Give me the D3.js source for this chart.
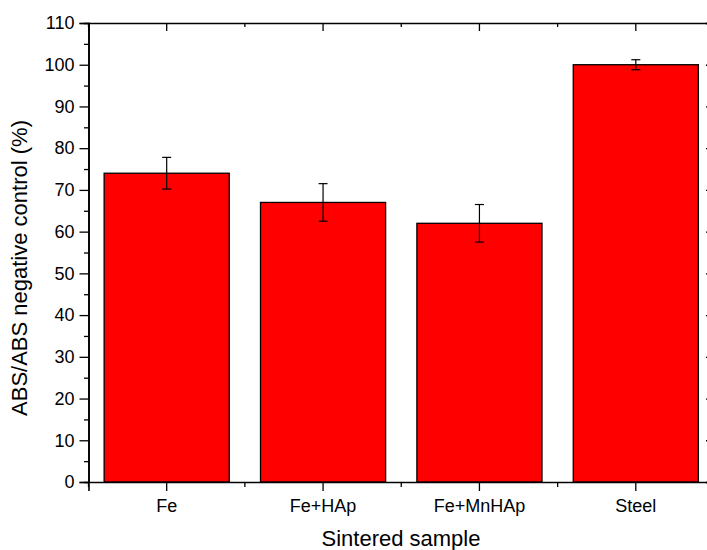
<!DOCTYPE html>
<html>
<head>
<meta charset="utf-8">
<script src="https://d3js.org/d3.v7.min.js"></script>
<style>
  body { margin: 0; background: #fff; }
  text { font-family: "Liberation Sans", Arial, sans-serif; fill: #000; }
</style>
</head>
<body>
<div id="chart"></div>
<script>
// data
var samples = ["Fe", "Fe+HAp", "Fe+MnHAp", "Steel"];
var absValues = [74, 67, 62, 100];
var absErrors = [3.8, 4.5, 4.5, 1.2];
var yTicks = d3.range(0, 111, 10);
var yMinorTicks = d3.range(5, 110, 10);

var svgWidth = 707;
var svgHeight = 550;

// plot frame (right edge runs just past the window)
var margin = {top: 23, right: -7, bottom: 68, left: 88.5};
var width = svgWidth - margin.left - margin.right;
var height = svgHeight - margin.top - margin.bottom;

var svg = d3.select("#chart")
  .append("svg")
    .attr("width", svgWidth)
    .attr("height", svgHeight);

var chartGroup = svg.append("g")
  .attr("transform", `translate(${margin.left}, ${margin.top})`);

var xBandScale = d3.scaleBand()
  .domain(samples)
  .range([0, width])
  .paddingInner(0.2)
  .paddingOuter(0.1);

var xCat = d3.scaleBand().domain(samples).range([0, width]);

var yLinearScale = d3.scaleLinear()
  .domain([0, 110])
  .range([height, 0]);

// bars
chartGroup.selectAll("rect.bar")
  .data(samples)
  .enter()
  .append("rect")
    .attr("class", "bar")
    .attr("x", d => xBandScale(d))
    .attr("y", (d, i) => yLinearScale(absValues[i]))
    .attr("width", xBandScale.bandwidth())
    .attr("height", (d, i) => height - yLinearScale(absValues[i]))
    .attr("fill", "#ff0000")
    .attr("stroke", "#000")
    .attr("stroke-width", 1.3);

// error bars
var errGroup = chartGroup.selectAll("g.err")
  .data(samples)
  .enter()
  .append("g")
    .attr("class", "err")
    .attr("transform", d => `translate(${xCat(d) + xCat.bandwidth() / 2}, 0)`);

errGroup.append("line")
  .attr("y1", (d, i) => yLinearScale(absValues[i] + absErrors[i]))
  .attr("y2", (d, i) => yLinearScale(absValues[i] - absErrors[i]))
  .attr("stroke", "#000").attr("stroke-width", 1.2);

[1, -1].forEach(function(sign) {
  errGroup.append("line")
    .attr("x1", -4.5).attr("x2", 4.5)
    .attr("y1", (d, i) => yLinearScale(absValues[i] + sign * absErrors[i]))
    .attr("y2", (d, i) => yLinearScale(absValues[i] + sign * absErrors[i]))
    .attr("stroke", "#000").attr("stroke-width", 1.2);
});

// axes
var yAxis = d3.axisLeft(yLinearScale).tickValues(yTicks).tickSize(9).tickPadding(5);
var yMinor = d3.axisLeft(yLinearScale).tickValues(yMinorTicks).tickSize(4.5).tickFormat("");
var yRight = d3.axisLeft(yLinearScale).tickValues(yTicks).tickSize(8).tickFormat("");
var yRightMinor = d3.axisLeft(yLinearScale).tickValues(yMinorTicks).tickSize(4).tickFormat("");

chartGroup.append("g").call(yAxis);
chartGroup.append("g").call(yMinor);
chartGroup.append("g").attr("transform", `translate(${width}, 0)`).call(yRight);
chartGroup.append("g").attr("transform", `translate(${width}, 0)`).call(yRightMinor);

var xAxis = d3.axisBottom(xCat).tickSize(9).tickPadding(8);
chartGroup.append("g")
  .attr("transform", `translate(0, ${height})`)
  .call(xAxis);

// category boundary ticks
var bounds = samples.map(d => xCat(d)).concat([width]);
chartGroup.selectAll("line.bnd")
  .data(bounds)
  .enter()
  .append("line")
    .attr("class", "bnd")
    .attr("x1", d => d).attr("x2", d => d)
    .attr("y1", height).attr("y2", height + 5)
    .attr("stroke", "#000").attr("stroke-width", 1.3);

// top axis, ticks pointing in
var xTop = d3.axisTop(xCat).tickSize(-8).tickFormat("");
chartGroup.append("g").call(xTop);
chartGroup.selectAll("line.bndTop")
  .data(bounds)
  .enter()
  .append("line")
    .attr("class", "bndTop")
    .attr("x1", d => d).attr("x2", d => d)
    .attr("y1", 0).attr("y2", 4)
    .attr("stroke", "#000").attr("stroke-width", 1.3);

chartGroup.selectAll(".domain").attr("stroke-width", 1.6);
chartGroup.selectAll(".tick line").attr("stroke-width", 1.3);
chartGroup.selectAll(".tick text")
  .style("font-family", "'Liberation Sans', Arial, sans-serif")
  .style("font-size", "18px");

// axis titles
svg.append("text")
  .attr("transform", "translate(27, 268) rotate(-90)")
  .attr("text-anchor", "middle")
  .style("font-size", "22px")
  .text("ABS/ABS negative control (%)");

svg.append("text")
  .attr("x", 401)
  .attr("y", 546)
  .attr("text-anchor", "middle")
  .style("font-size", "22px")
  .text("Sintered sample");
</script>
</body>
</html>
